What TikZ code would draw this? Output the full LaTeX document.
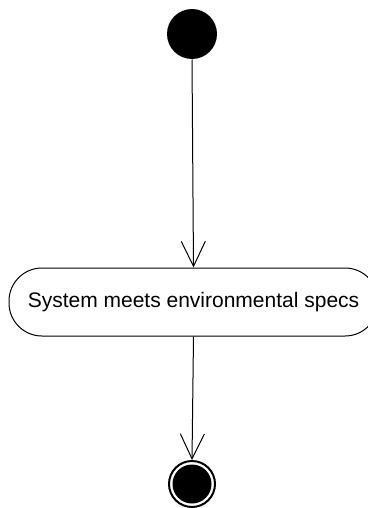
\documentclass[tikz,border=0pt]{standalone}
\usepackage{fontspec}
\setmainfont{Liberation Sans}
\usetikzlibrary{arrows.meta}

\begin{document}
\begin{tikzpicture}[x=1pt,y=-1pt,line width=1pt,inner sep=0pt,
    >={Straight Barb[length=25pt,width=24pt,line width=1pt]},
    action/.style={draw,rounded corners=33pt,minimum width=369pt,minimum height=68pt,font=\fontsize{21}{25}\selectfont}]
    \useasboundingbox (0,0) rectangle (367,508);
    \node (Start) at (192,34) [circle,fill,minimum size=50pt]{};
    \node (Specs) at (193.5,302) [action]{System meets environmental specs};
    \node (End) at (192,484) [circle,draw,line width=2pt,minimum size=46pt]{};
    \node (EndDot) at (End) [circle,fill,minimum size=39pt]{};

    \draw [->] (Start.270) to (Specs.90);
    \draw [->] (Specs.270) to (End.90);
  \end{tikzpicture}
\end{document}
